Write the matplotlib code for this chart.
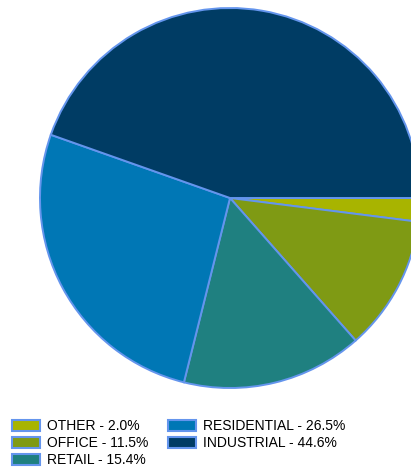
import matplotlib
matplotlib.use("Agg")
import matplotlib.pyplot as plt
from matplotlib.patches import Patch

categories = ["OTHER", "OFFICE", "RETAIL", "RESIDENTIAL", "INDUSTRIAL"]
values = [2.0, 11.5, 15.4, 26.5, 44.6]
colors = ["#a8b400", "#7f9a14", "#1f8080", "#0077b5", "#003c64"]
edge = "#6495ED"

plt.rcParams['font.family'] = ['Liberation Sans', 'DejaVu Sans']

W, H = 411, 468
fig = plt.figure(figsize=(W / 100, H / 100), dpi=100)
cx, cy, r = 230, 198, 190
ax = fig.add_axes([(cx - r) / W, (H - cy - r) / H, 2 * r / W, 2 * r / H])
ax.pie(values, colors=colors, startangle=0, counterclock=False,
       wedgeprops=dict(edgecolor=edge, linewidth=1.4), radius=1.0)
ax.set_xlim(-1, 1)
ax.set_ylim(-1, 1)
ax.set_aspect('equal')
ax.axis('off')

handles = [Patch(facecolor=c, edgecolor=edge, linewidth=1.5) for c in colors]
labels = [f"{c} - {v:.1f}%" for c, v in zip(categories, values)]
fig.legend(handles, labels, ncol=2, loc='upper left',
           bbox_to_anchor=(12 / W, 1 - 419 / H), frameon=False,
           fontsize=10, handlelength=2.0, handleheight=0.85,
           handletextpad=0.5, columnspacing=1.45, labelspacing=0.22,
           borderpad=0, borderaxespad=0)

fig.savefig("out.png", dpi=100)
